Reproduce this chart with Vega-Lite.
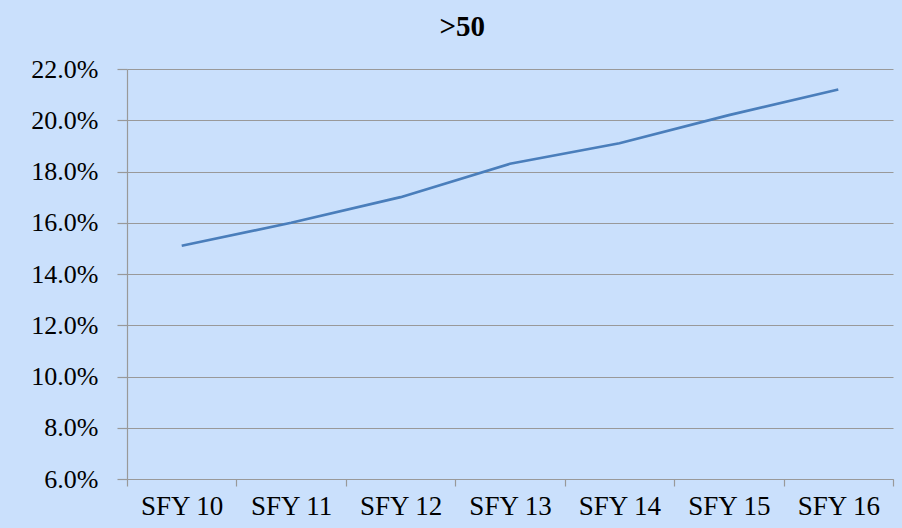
{
  "$schema": "https://vega.github.io/schema/vega-lite/v6.json",
  "width": 766,
  "height": 410,
  "autosize": {"type": "none"},
  "padding": {"left": 127, "top": 69, "right": 9, "bottom": 49},
  "background": "#CAE0FC",
  "title": {
    "text": ">50",
    "font": "Liberation Serif",
    "fontSize": 29,
    "fontWeight": "bold",
    "color": "#000000",
    "anchor": "middle",
    "frame": "bounds",
    "offset": 14
  },
  "config": {
    "view": {"stroke": null},
    "axis": {
      "labelFont": "Liberation Serif",
      "labelColor": "#000000",
      "domainColor": "#999999",
      "tickColor": "#999999",
      "gridColor": "#999999",
      "gridWidth": 1.2,
      "domainWidth": 1.2,
      "tickWidth": 1.2
    }
  },
  "data": {
    "values": [
      {"year": "SFY 10", "value": 0.151},
      {"year": "SFY 11", "value": 0.160},
      {"year": "SFY 12", "value": 0.170},
      {"year": "SFY 13", "value": 0.183},
      {"year": "SFY 14", "value": 0.191},
      {"year": "SFY 15", "value": 0.202},
      {"year": "SFY 16", "value": 0.212}
    ]
  },
  "mark": {"type": "line", "color": "#4A7EBB", "strokeWidth": 2.6},
  "encoding": {
    "x": {
      "field": "year",
      "type": "ordinal",
      "scale": {"type": "band", "paddingInner": 0, "paddingOuter": 0},
      "axis": {
        "title": null,
        "labelAngle": 0,
        "labelFontSize": 27,
        "tickBand": "extent",
        "tickSize": 7,
        "labelPadding": 7,
        "grid": false
      }
    },
    "y": {
      "field": "value",
      "type": "quantitative",
      "scale": {"domain": [0.06, 0.22], "nice": false, "zero": false},
      "axis": {
        "title": null,
        "format": ".1%",
        "values": [0.06, 0.08, 0.10, 0.12, 0.14, 0.16, 0.18, 0.20, 0.22],
        "labelFontSize": 26,
        "tickSize": 10,
        "labelPadding": 19,
        "grid": true
      }
    }
  }
}
